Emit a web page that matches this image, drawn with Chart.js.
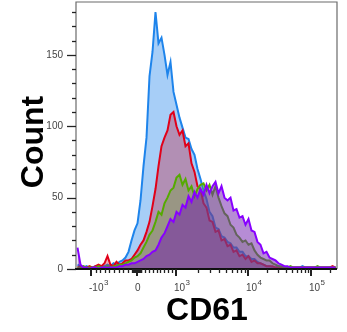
<!DOCTYPE html>
<html>
<head>
<meta charset="utf-8">
<script src="https://cdn.jsdelivr.net/npm/chart.js@4.4.1/dist/chart.umd.min.js"></script>
<style>
  html, body { margin: 0; padding: 0; background: #fff; }
  #wrap { width: 347px; height: 332px; }
</style>
</head>
<body>
<div id="wrap"><canvas id="chartCD61" width="347" height="332"></canvas></div>
<script>
// ===== data: CD61 histogram, counts per display channel (bin width 3) =====
const countsBlue = [3,2,1,2,1,1,2,1,2,2,3,2,4,3,5,6,8,12,20,27,32,48,72,92,135,152,180,158,162,150,
  136,145,124,115,106,99,92,91,84,80,70,63,55,49,40,37,29,28,23,22,19,18,15,15,12,12,9,9,7,7,
  5,4,3,2,2,1,1,2,1,1,1,1,1,1,1,2,1,1,1,1,1,1,1,1,1,1,1];
const countsRed = [1,2,1,1,2,1,2,3,2,4,9,3,2,5,3,4,6,6,7,10,13,17,20,26,33,44,56,72,86,92,
  97,108,110,100,94,97,86,88,74,68,58,56,46,43,34,33,26,27,20,21,16,17,12,13,9,10,7,9,5,6,
  4,4,3,2,2,2,1,1,1,1,1,1,1,1,1,1,1,1,1,1,1,1,1,1,1,2,1];
const countsGreen = [1,1,2,1,1,1,1,2,1,1,2,1,2,2,3,3,4,5,6,8,9,11,15,19,24,27,33,40,38,46,
  50,55,57,64,66,59,63,55,58,51,56,59,60,55,59,52,58,50,44,39,37,31,29,24,22,19,20,17,18,13,
  10,8,7,6,6,4,3,2,2,1,1,2,1,1,1,1,1,1,1,1,2,1,1,1,1,1,1];
const countsPurple = [15,3,1,1,0,1,1,0,1,1,1,1,1,1,2,2,3,3,4,4,5,6,7,9,10,12,13,17,22,25,
  30,35,33,40,38,45,43,51,47,54,50,56,52,59,53,58,61,53,58,50,48,50,41,42,36,37,31,35,27,26,
  19,17,11,12,8,7,6,4,3,2,2,1,1,1,1,1,1,1,1,1,1,1,1,1,1,1,1];

const binWidth = 3;
const bins = countsBlue.map((_, i) => i * binWidth + binWidth / 2);

// x axis: biexponential display channels, major decades
const xMajorLabels = ['-10|3', '0', '10|3', '10|4', '10|5'];
const xMajorChannels = [15, 61, 100, 172, 235];
const xChannelMax = 261;

// y axis
const yMax = 187;
const yMajorTicks = [0, 50, 100, 150];
const yMinorStep = 10;

const COLORS = {
  blue:   { line: 'rgb(30,132,235)',  fill: 'rgba(95,165,240,0.55)' },
  red:    { line: 'rgb(225,0,25)',    fill: 'rgba(200,25,55,0.35)' },
  green:  { line: 'rgb(85,170,0)',    fill: 'rgba(100,165,30,0.32)' },
  purple: { line: 'rgb(135,0,255)',   fill: 'rgba(115,35,175,0.52)' },
};

// biex-like mapping for minor ticks: linear inside +-1000, log per decade outside
function channelOf(v) {
  const zero = xMajorChannels[1], pos = xMajorChannels[2], neg = xMajorChannels[0];
  if (v >= -1000 && v <= 1000) {
    return v >= 0 ? zero + (pos - zero) * v / 1000 : zero + (zero - neg) * v / 1000;
  }
  if (v > 1000) {
    const dec = Math.log10(v);
    const d = Math.floor(dec);
    const p0 = d === 3 ? xMajorChannels[2] : d === 4 ? xMajorChannels[3] : xMajorChannels[4];
    const p1 = d === 3 ? xMajorChannels[3] : d === 4 ? xMajorChannels[4] : xMajorChannels[4] + (xMajorChannels[4] - xMajorChannels[3]);
    return p0 + (p1 - p0) * (dec - d);
  }
  return -999;
}

function minorValues() {
  const out = [];
  for (let m = 1; m <= 9; m++) {
    out.push(m * 10, -m * 10, m * 100, -m * 100);
    if (m > 1) out.push(m * 1000, m * 10000, m * 100000);
  }
  return out;
}

const axesPlugin = {
  id: 'flowAxes',
  afterDraw(chart) {
    const { ctx, chartArea: a, scales: { x, y } } = chart;
    ctx.save();
    // frame
    ctx.strokeStyle = '#6b6b6b';
    ctx.lineWidth = 1.2;
    ctx.beginPath();
    ctx.moveTo(a.left, a.bottom); ctx.lineTo(a.left, a.top);
    ctx.lineTo(a.right, a.top); ctx.lineTo(a.right, a.bottom);
    ctx.stroke();
    ctx.strokeStyle = '#111';
    ctx.lineWidth = 2.2;
    ctx.beginPath();
    ctx.moveTo(a.left - 1, a.bottom); ctx.lineTo(a.right, a.bottom);
    ctx.stroke();

    // y ticks
    ctx.lineWidth = 1.3;
    ctx.strokeStyle = '#222';
    for (let v = 0; v <= yMax; v += yMinorStep) {
      const py = Math.round(y.getPixelForValue(v)) + 0.5;
      const len = yMajorTicks.includes(v) ? 9 : 4;
      ctx.beginPath(); ctx.moveTo(a.left - len, py); ctx.lineTo(a.left, py); ctx.stroke();
    }
    ctx.fillStyle = '#444';
    ctx.font = '10px "Liberation Sans", Arial, sans-serif';
    ctx.textAlign = 'right';
    ctx.textBaseline = 'middle';
    yMajorTicks.forEach(v => ctx.fillText(String(v), a.left - 13, y.getPixelForValue(v)));

    // x ticks
    minorValues().forEach(v => {
      const c = channelOf(v);
      if (c < 0 || c > xChannelMax) return;
      const px = Math.round(x.getPixelForValue(c)) + 0.5;
      ctx.beginPath(); ctx.moveTo(px, a.bottom); ctx.lineTo(px, a.bottom + 4); ctx.stroke();
    });
    ctx.lineWidth = 2;
    xMajorChannels.forEach(c => {
      const px = Math.round(x.getPixelForValue(c));
      ctx.beginPath(); ctx.moveTo(px, a.bottom); ctx.lineTo(px, a.bottom + 7); ctx.stroke();
    });

    // x labels with superscript exponent
    ctx.textAlign = 'left';
    ctx.textBaseline = 'alphabetic';
    xMajorLabels.forEach((lab, i) => {
      const px = x.getPixelForValue(xMajorChannels[i]) - 2;
      const [base, exp] = lab.split('|');
      ctx.font = '10px "Liberation Sans", Arial, sans-serif';
      ctx.fillText(base, px, a.bottom + 22);
      if (exp) {
        const w = ctx.measureText(base).width;
        ctx.font = '8px "Liberation Sans", Arial, sans-serif';
        ctx.fillText(exp, px + w + 0.5, a.bottom + 16);
      }
    });

    // axis titles
    ctx.fillStyle = '#000';
    ctx.font = 'bold 32px "Liberation Sans", Arial, sans-serif';
    ctx.textAlign = 'center';
    ctx.fillText('CD61', 207, 320);
    ctx.translate(43, 142);
    ctx.rotate(-Math.PI / 2);
    ctx.fillText('Count', 0, 0);
    ctx.restore();
  }
};

function makeSet(label, counts, col, order) {
  return {
    label,
    data: bins.map((b, i) => ({ x: b, y: counts[i] })),
    borderColor: col.line,
    backgroundColor: col.fill,
    borderWidth: 2,
    pointRadius: 0,
    tension: 0,
    fill: 'origin',
    order,
  };
}

function initHistogram() {
  const ctx = document.getElementById('chartCD61');
  new Chart(ctx, {
    type: 'line',
    data: {
      datasets: [
        makeSet('blue', countsBlue, COLORS.blue, 4),
        makeSet('red', countsRed, COLORS.red, 3),
        makeSet('green', countsGreen, COLORS.green, 2),
        makeSet('purple', countsPurple, COLORS.purple, 1),
      ]
    },
    options: {
      responsive: false,
      animation: false,
      layout: { padding: { top: 2, right: 10, left: 0, bottom: 0 } },
      plugins: { legend: { display: false }, tooltip: { enabled: false } },
      scales: {
        x: {
          type: 'linear', min: 0, max: xChannelMax,
          grid: { display: false }, border: { display: false },
          ticks: { display: false },
          afterFit: s => { s.height = 63; }
        },
        y: {
          min: 0, max: yMax,
          grid: { display: false }, border: { display: false },
          ticks: { display: false },
          afterFit: s => { s.width = 76; }
        }
      }
    },
    plugins: [axesPlugin]
  });
}

initHistogram();
</script>
</body>
</html>
